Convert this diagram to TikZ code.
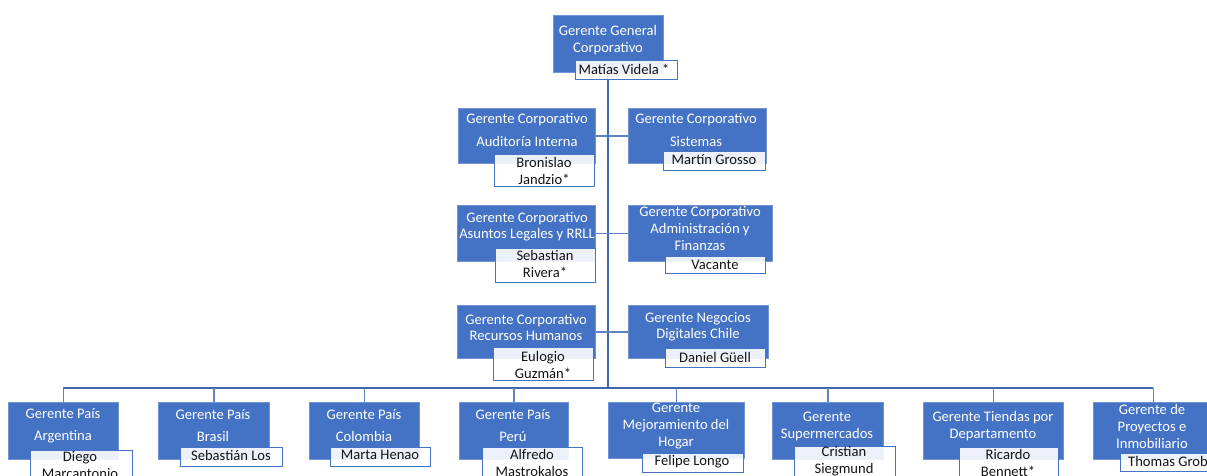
\documentclass[tikz,border=0pt]{standalone}
\usepackage{fontspec}
\setmainfont{Carlito}
\usetikzlibrary{backgrounds}
\definecolor{gblue}{HTML}{4472C4}
\definecolor{gedge}{HTML}{6F93D3}
\definecolor{gline}{HTML}{3F66B0}
\definecolor{gthin}{HTML}{5E82C4}
\newcommand\bfnt{\fontsize{14.6}{17}\selectfont}
\newcommand\gbox[5]{\node[bx, minimum width=#4pt, minimum height=#5pt] (#1) at (#2,#3) {};}
\newcommand\nbox[5]{\node[nb, minimum width=#4pt, minimum height=#5pt] (#1) at (#2,#3) {};}
\tikzset{
  bx/.style={fill=gblue, draw=gedge, line width=0.8pt, inner sep=0pt, anchor=north west},
  nb/.style={fill=white, fill opacity=0.9, draw=gblue, draw opacity=1, line width=1pt, inner sep=0pt, anchor=north west},
  tx/.style={text=white, align=center, font=\bfnt, inner sep=0pt},
  nt/.style={text=black!92, align=center, font=\bfnt, inner sep=0pt},
  trunk/.style={draw=gline, line width=2pt},
  side/.style={draw=gthin, line width=1.3pt},
  drop/.style={draw=gthin, line width=1.2pt}
}
\begin{document}
\begin{tikzpicture}[x=1pt,y=-1pt]
\useasboundingbox (0,0) rectangle (1207,475);
\clip (0,0) rectangle (1207,475);
% top
\gbox{top}{553}{15}{110}{57}
\nbox{topn}{575}{60}{102}{19}
\node[tx] (topt) at (608,40) {Gerente General\\Corporativo};
\node[nt] (toptn) at (624,69) {Matías Videla *};
% row 1
\gbox{r1l}{458}{108}{137}{55}
\gbox{r1r}{628}{108}{138}{55}
\nbox{r1ln}{494}{154}{100}{32}
\nbox{r1rn}{663}{151}{102}{19}
\node[tx] (r1lt) at (527,129.5) {Gerente Corporativo\\[6pt]Auditoría Interna};
\node[tx] (r1rt) at (696,129.5) {Gerente Corporativo\\[6pt]Sistemas};
\node[nt] (r1lnt) at (544,170.5) {Bronislao\\Jandzio*};
\node[nt] (r1rnt) at (714,160) {Martín Grosso};
% row 2
\gbox{r2l}{457}{205}{138}{56}
\gbox{r2r}{628}{205}{144}{56}
\nbox{r2ln}{495}{248}{100}{34}
\nbox{r2rn}{665}{256}{100}{17}
\node[tx] (r2lt) at (527,226.5) {Gerente Corporativo\\[-1.5pt]Asuntos Legales y RRLL};
\node[tx] (r2rt) at (700,228.5) {Gerente Corporativo\\Administración y\\Finanzas};
\node[nt] (r2lnt) at (545,264) {Sebastian\\Rivera*};
\node[nt] (r2rnt) at (715,265) {Vacante};
% row 3
\gbox{r3l}{457}{305}{138}{53}
\gbox{r3r}{628}{305}{140}{53}
\nbox{r3ln}{493}{347}{100}{33}
\nbox{r3rn}{665}{348}{100}{19}
\node[tx] (r3lt) at (526,327) {Gerente Corporativo\\[-1pt]Recursos Humanos};
\node[tx] (r3rt) at (698,327) {Gerente Negocios\\[-1pt]Digitales Chile};
\node[nt] (r3lnt) at (543,364.5) {Eulogio\\Guzmán*};
\node[nt] (r3rnt) at (715,357) {Daniel Güell};
% bottom row
\gbox{b1}{8}{402}{110}{57}
\gbox{b2}{158}{402}{111}{57}
\gbox{b3}{309}{402}{110}{57}
\gbox{b4}{459}{402}{109}{57}
\gbox{b5}{608}{402}{136}{56}
\gbox{b6}{772}{402}{111}{57}
\gbox{b7}{923}{402}{140}{57}
\gbox{b8}{1093}{402}{120}{57}
\nbox{b1n}{30}{450}{102}{40}
\nbox{b2n}{180}{447}{102}{19}
\nbox{b3n}{330}{447}{100}{19}
\nbox{b4n}{482}{447}{100}{40}
\nbox{b5n}{642}{453}{101}{19}
\nbox{b6n}{794}{446}{101}{40}
\nbox{b7n}{959}{447}{99}{40}
\nbox{b8n}{1120}{453}{100}{18}
\node[tx] (b1t) at (63,426) {Gerente País\\[5pt]Argentina};
\node[tx] (b2t) at (213,426) {Gerente País\\[5pt]Brasil};
\node[tx] (b3t) at (364,426) {Gerente País\\[5pt]Colombia};
\node[tx] (b4t) at (513,426) {Gerente País\\[5pt]Perú};
\node[tx] (b5t) at (676,426) {Gerente\\Mejoramiento del\\Hogar};
\node[tx] (b6t) at (827,426.5) {Gerente\\Supermercados};
\node[tx] (b7t) at (993,426.5) {Gerente Tiendas por\\Departamento};
\node[tx] (b8t) at (1152,426) {Gerente de\\Proyectos e\\Inmobiliario};
\node[nt] (b1nt) at (80,465) {Diego\\Marcantonio};
\node[nt] (b2nt) at (231,455) {Sebastián Los};
\node[nt] (b3nt) at (380,455) {Marta Henao};
\node[nt] (b4nt) at (532,463) {Alfredo\\Mastrokalos};
\node[nt] (b5nt) at (692,462) {Felipe Longo};
\node[nt] (b6nt) at (844,461) {Cristian\\Siegmund};
\node[nt] (b7nt) at (1008,462.5) {Ricardo\\Bennett*};
\node[nt, anchor=west] (b8nt) at (1128,461.5) {Thomas Grob};
% connectors
\begin{pgfonlayer}{background}
\coordinate (hl) at (b1.north |- 0,388);
\coordinate (hr) at (b8.north |- 0,388);
\draw[trunk] (top.south) -- (top.south |- hl);
\draw[trunk] (hl) -- (hr);
\draw[side] (r1l.east) -- (r1r.west);
\draw[side] (r2l.east) -- (r2r.west);
\draw[side] (r3l.east) -- (r3r.west);
\foreach \b in {b1,b2,b3,b4,b5,b6,b7,b8}{
  \draw[drop] (\b.north) -- (\b.north |- hl);
}
\end{pgfonlayer}
\end{tikzpicture}
\end{document}
